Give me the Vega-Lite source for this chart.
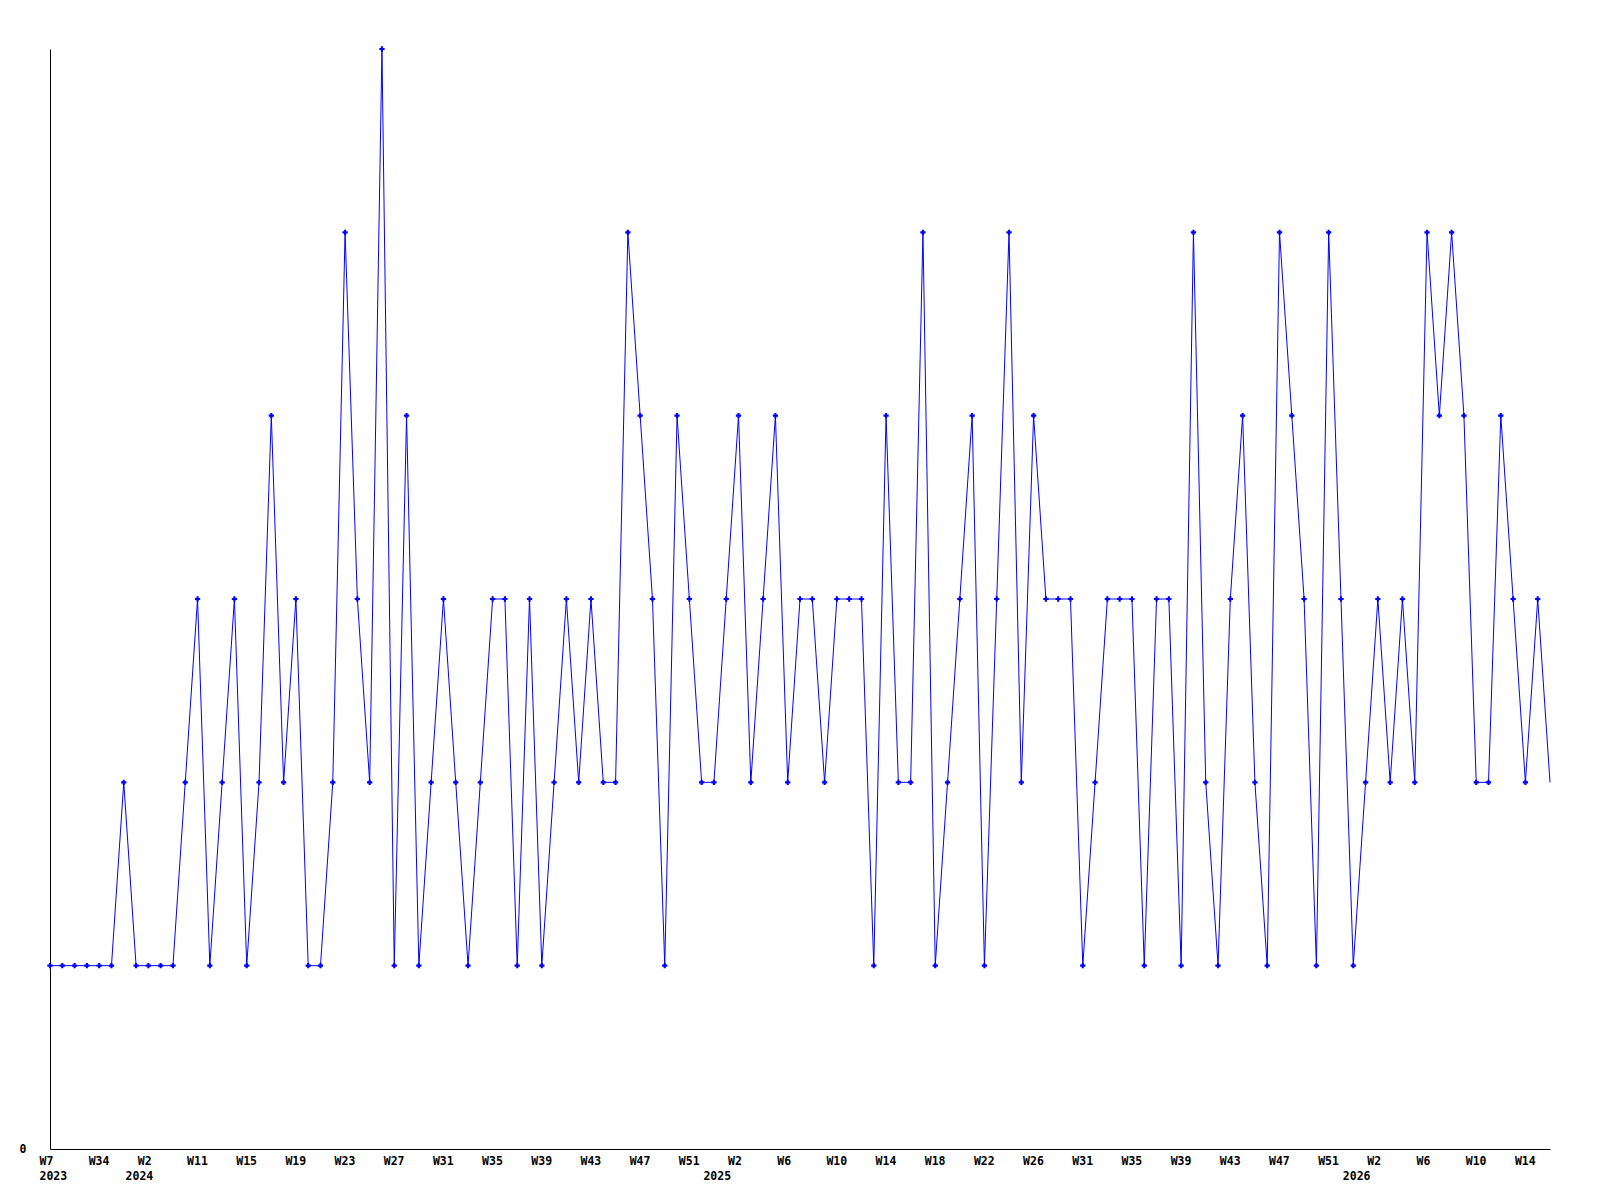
{
  "$schema": "https://vega.github.io/schema/vega-lite/v6.json",
  "width": 1500,
  "height": 1100,
  "autosize": "none",
  "padding": {"left": 50, "top": 49, "right": 50, "bottom": 51},
  "background": "white",
  "config": {
    "view": {"stroke": null},
    "axis": {
      "labelFont": "DejaVu Sans Mono",
      "labelFontWeight": "bold",
      "labelFontSize": 11.5,
      "labelColor": "black",
      "domainColor": "black",
      "domainWidth": 1,
      "grid": false,
      "ticks": false,
      "tickSize": 0,
      "labelOverlap": false,
      "labelFlush": false,
      "title": null
    }
  },
  "data": {
    "values": [
      {"wk": "2023-W07", "v": 1}, {"wk": "2023-W14", "v": 1}, {"wk": "2023-W20", "v": 1}, {"wk": "2023-W27", "v": 1},
      {"wk": "2023-W34", "v": 1}, {"wk": "2023-W40", "v": 1}, {"wk": "2023-W45", "v": 2}, {"wk": "2024-W01", "v": 1},
      {"wk": "2024-W02", "v": 1}, {"wk": "2024-W05", "v": 1}, {"wk": "2024-W07", "v": 1}, {"wk": "2024-W09", "v": 2},
      {"wk": "2024-W11", "v": 3}, {"wk": "2024-W12", "v": 1}, {"wk": "2024-W13", "v": 2}, {"wk": "2024-W14", "v": 3},
      {"wk": "2024-W15", "v": 1}, {"wk": "2024-W16", "v": 2}, {"wk": "2024-W17", "v": 4}, {"wk": "2024-W18", "v": 2},
      {"wk": "2024-W19", "v": 3}, {"wk": "2024-W20", "v": 1}, {"wk": "2024-W21", "v": 1}, {"wk": "2024-W22", "v": 2},
      {"wk": "2024-W23", "v": 5}, {"wk": "2024-W24", "v": 3}, {"wk": "2024-W25", "v": 2}, {"wk": "2024-W26", "v": 6},
      {"wk": "2024-W27", "v": 1}, {"wk": "2024-W28", "v": 4}, {"wk": "2024-W29", "v": 1}, {"wk": "2024-W30", "v": 2},
      {"wk": "2024-W31", "v": 3}, {"wk": "2024-W32", "v": 2}, {"wk": "2024-W33", "v": 1}, {"wk": "2024-W34", "v": 2},
      {"wk": "2024-W35", "v": 3}, {"wk": "2024-W36", "v": 3}, {"wk": "2024-W37", "v": 1}, {"wk": "2024-W38", "v": 3},
      {"wk": "2024-W39", "v": 1}, {"wk": "2024-W40", "v": 2}, {"wk": "2024-W41", "v": 3}, {"wk": "2024-W42", "v": 2},
      {"wk": "2024-W43", "v": 3}, {"wk": "2024-W44", "v": 2}, {"wk": "2024-W45", "v": 2}, {"wk": "2024-W46", "v": 5},
      {"wk": "2024-W47", "v": 4}, {"wk": "2024-W48", "v": 3}, {"wk": "2024-W49", "v": 1}, {"wk": "2024-W50", "v": 4},
      {"wk": "2024-W51", "v": 3}, {"wk": "2024-W52", "v": 2}, {"wk": "2025-W00", "v": 2}, {"wk": "2025-W01", "v": 3},
      {"wk": "2025-W02", "v": 4}, {"wk": "2025-W03", "v": 2}, {"wk": "2025-W04", "v": 3}, {"wk": "2025-W05", "v": 4},
      {"wk": "2025-W06", "v": 2}, {"wk": "2025-W07", "v": 3}, {"wk": "2025-W08", "v": 3}, {"wk": "2025-W09", "v": 2},
      {"wk": "2025-W10", "v": 3}, {"wk": "2025-W11", "v": 3}, {"wk": "2025-W12", "v": 3}, {"wk": "2025-W13", "v": 1},
      {"wk": "2025-W14", "v": 4}, {"wk": "2025-W15", "v": 2}, {"wk": "2025-W16", "v": 2}, {"wk": "2025-W17", "v": 5},
      {"wk": "2025-W18", "v": 1}, {"wk": "2025-W19", "v": 2}, {"wk": "2025-W20", "v": 3}, {"wk": "2025-W21", "v": 4},
      {"wk": "2025-W22", "v": 1}, {"wk": "2025-W23", "v": 3}, {"wk": "2025-W24", "v": 5}, {"wk": "2025-W25", "v": 2},
      {"wk": "2025-W26", "v": 4}, {"wk": "2025-W27", "v": 3}, {"wk": "2025-W28", "v": 3}, {"wk": "2025-W30", "v": 3},
      {"wk": "2025-W31", "v": 1}, {"wk": "2025-W32", "v": 2}, {"wk": "2025-W33", "v": 3}, {"wk": "2025-W34", "v": 3},
      {"wk": "2025-W35", "v": 3}, {"wk": "2025-W36", "v": 1}, {"wk": "2025-W37", "v": 3}, {"wk": "2025-W38", "v": 3},
      {"wk": "2025-W39", "v": 1}, {"wk": "2025-W40", "v": 5}, {"wk": "2025-W41", "v": 2}, {"wk": "2025-W42", "v": 1},
      {"wk": "2025-W43", "v": 3}, {"wk": "2025-W44", "v": 4}, {"wk": "2025-W45", "v": 2}, {"wk": "2025-W46", "v": 1},
      {"wk": "2025-W47", "v": 5}, {"wk": "2025-W48", "v": 4}, {"wk": "2025-W49", "v": 3}, {"wk": "2025-W50", "v": 1},
      {"wk": "2025-W51", "v": 5}, {"wk": "2025-W52", "v": 3}, {"wk": "2026-W00", "v": 1}, {"wk": "2026-W01", "v": 2},
      {"wk": "2026-W02", "v": 3}, {"wk": "2026-W03", "v": 2}, {"wk": "2026-W04", "v": 3}, {"wk": "2026-W05", "v": 2},
      {"wk": "2026-W06", "v": 5}, {"wk": "2026-W07", "v": 4}, {"wk": "2026-W08", "v": 5}, {"wk": "2026-W09", "v": 4},
      {"wk": "2026-W10", "v": 2}, {"wk": "2026-W11", "v": 2}, {"wk": "2026-W12", "v": 4}, {"wk": "2026-W13", "v": 3},
      {"wk": "2026-W14", "v": 2}, {"wk": "2026-W15", "v": 3}, {"wk": "2026-W16", "v": 2}
    ]
  },
  "layer": [
    {
      "mark": {"type": "line", "color": "#0000ff", "strokeWidth": 1},
      "encoding": {
        "x": {
          "field": "wk", "type": "ordinal", "sort": null,
          "scale": {"type": "point", "padding": 0},
          "axis": {
            "orient": "bottom",
            "values": ["2023-W07", "2023-W34", "2024-W02", "2024-W11", "2024-W15", "2024-W19", "2024-W23", "2024-W27", "2024-W31", "2024-W35", "2024-W39", "2024-W43", "2024-W47", "2024-W51", "2025-W02", "2025-W06", "2025-W10", "2025-W14", "2025-W18", "2025-W22", "2025-W26", "2025-W31", "2025-W35", "2025-W39", "2025-W43", "2025-W47", "2025-W51", "2026-W02", "2026-W06", "2026-W10", "2026-W14"],
            "labelExpr": "'W' + toNumber(substring(datum.value, 6, 8))",
            "labelAlign": "left",
            "labelOffset": -11,
            "labelBaseline": "top",
            "labelPadding": 6,
            "labelAngle": 0
          }
        },
        "y": {
          "field": "v", "type": "quantitative",
          "scale": {"domain": [0, 6], "nice": false, "zero": true},
          "axis": {"values": [0], "labelPadding": 24, "labelBaseline": "middle"}
        }
      }
    },
    {
      "mark": {"type": "point", "shape": "cross", "filled": true, "size": 28, "color": "#0000ff"},
      "encoding": {
        "x": {
          "field": "wk", "type": "ordinal", "sort": null,
          "scale": {"type": "point", "padding": 0},
          "axis": {
            "orient": "bottom",
            "domain": false,
            "values": ["2023-W07", "2024-W01", "2025-W00", "2026-W00"],
            "labelExpr": "substring(datum.value, 0, 4)",
            "labelAlign": "left",
            "labelOffset": -11,
            "labelBaseline": "top",
            "labelPadding": 21,
            "labelAngle": 0
          }
        },
        "y": {
          "field": "v", "type": "quantitative",
          "scale": {"domain": [0, 6], "nice": false, "zero": true},
          "axis": {"values": [0], "labelPadding": 24, "labelBaseline": "middle"}
        },
        "opacity": {"condition": {"test": "datum.wk == '2026-W16'", "value": 0}, "value": 1}
      }
    }
  ],
  "resolve": {"axis": {"x": "independent"}}
}
